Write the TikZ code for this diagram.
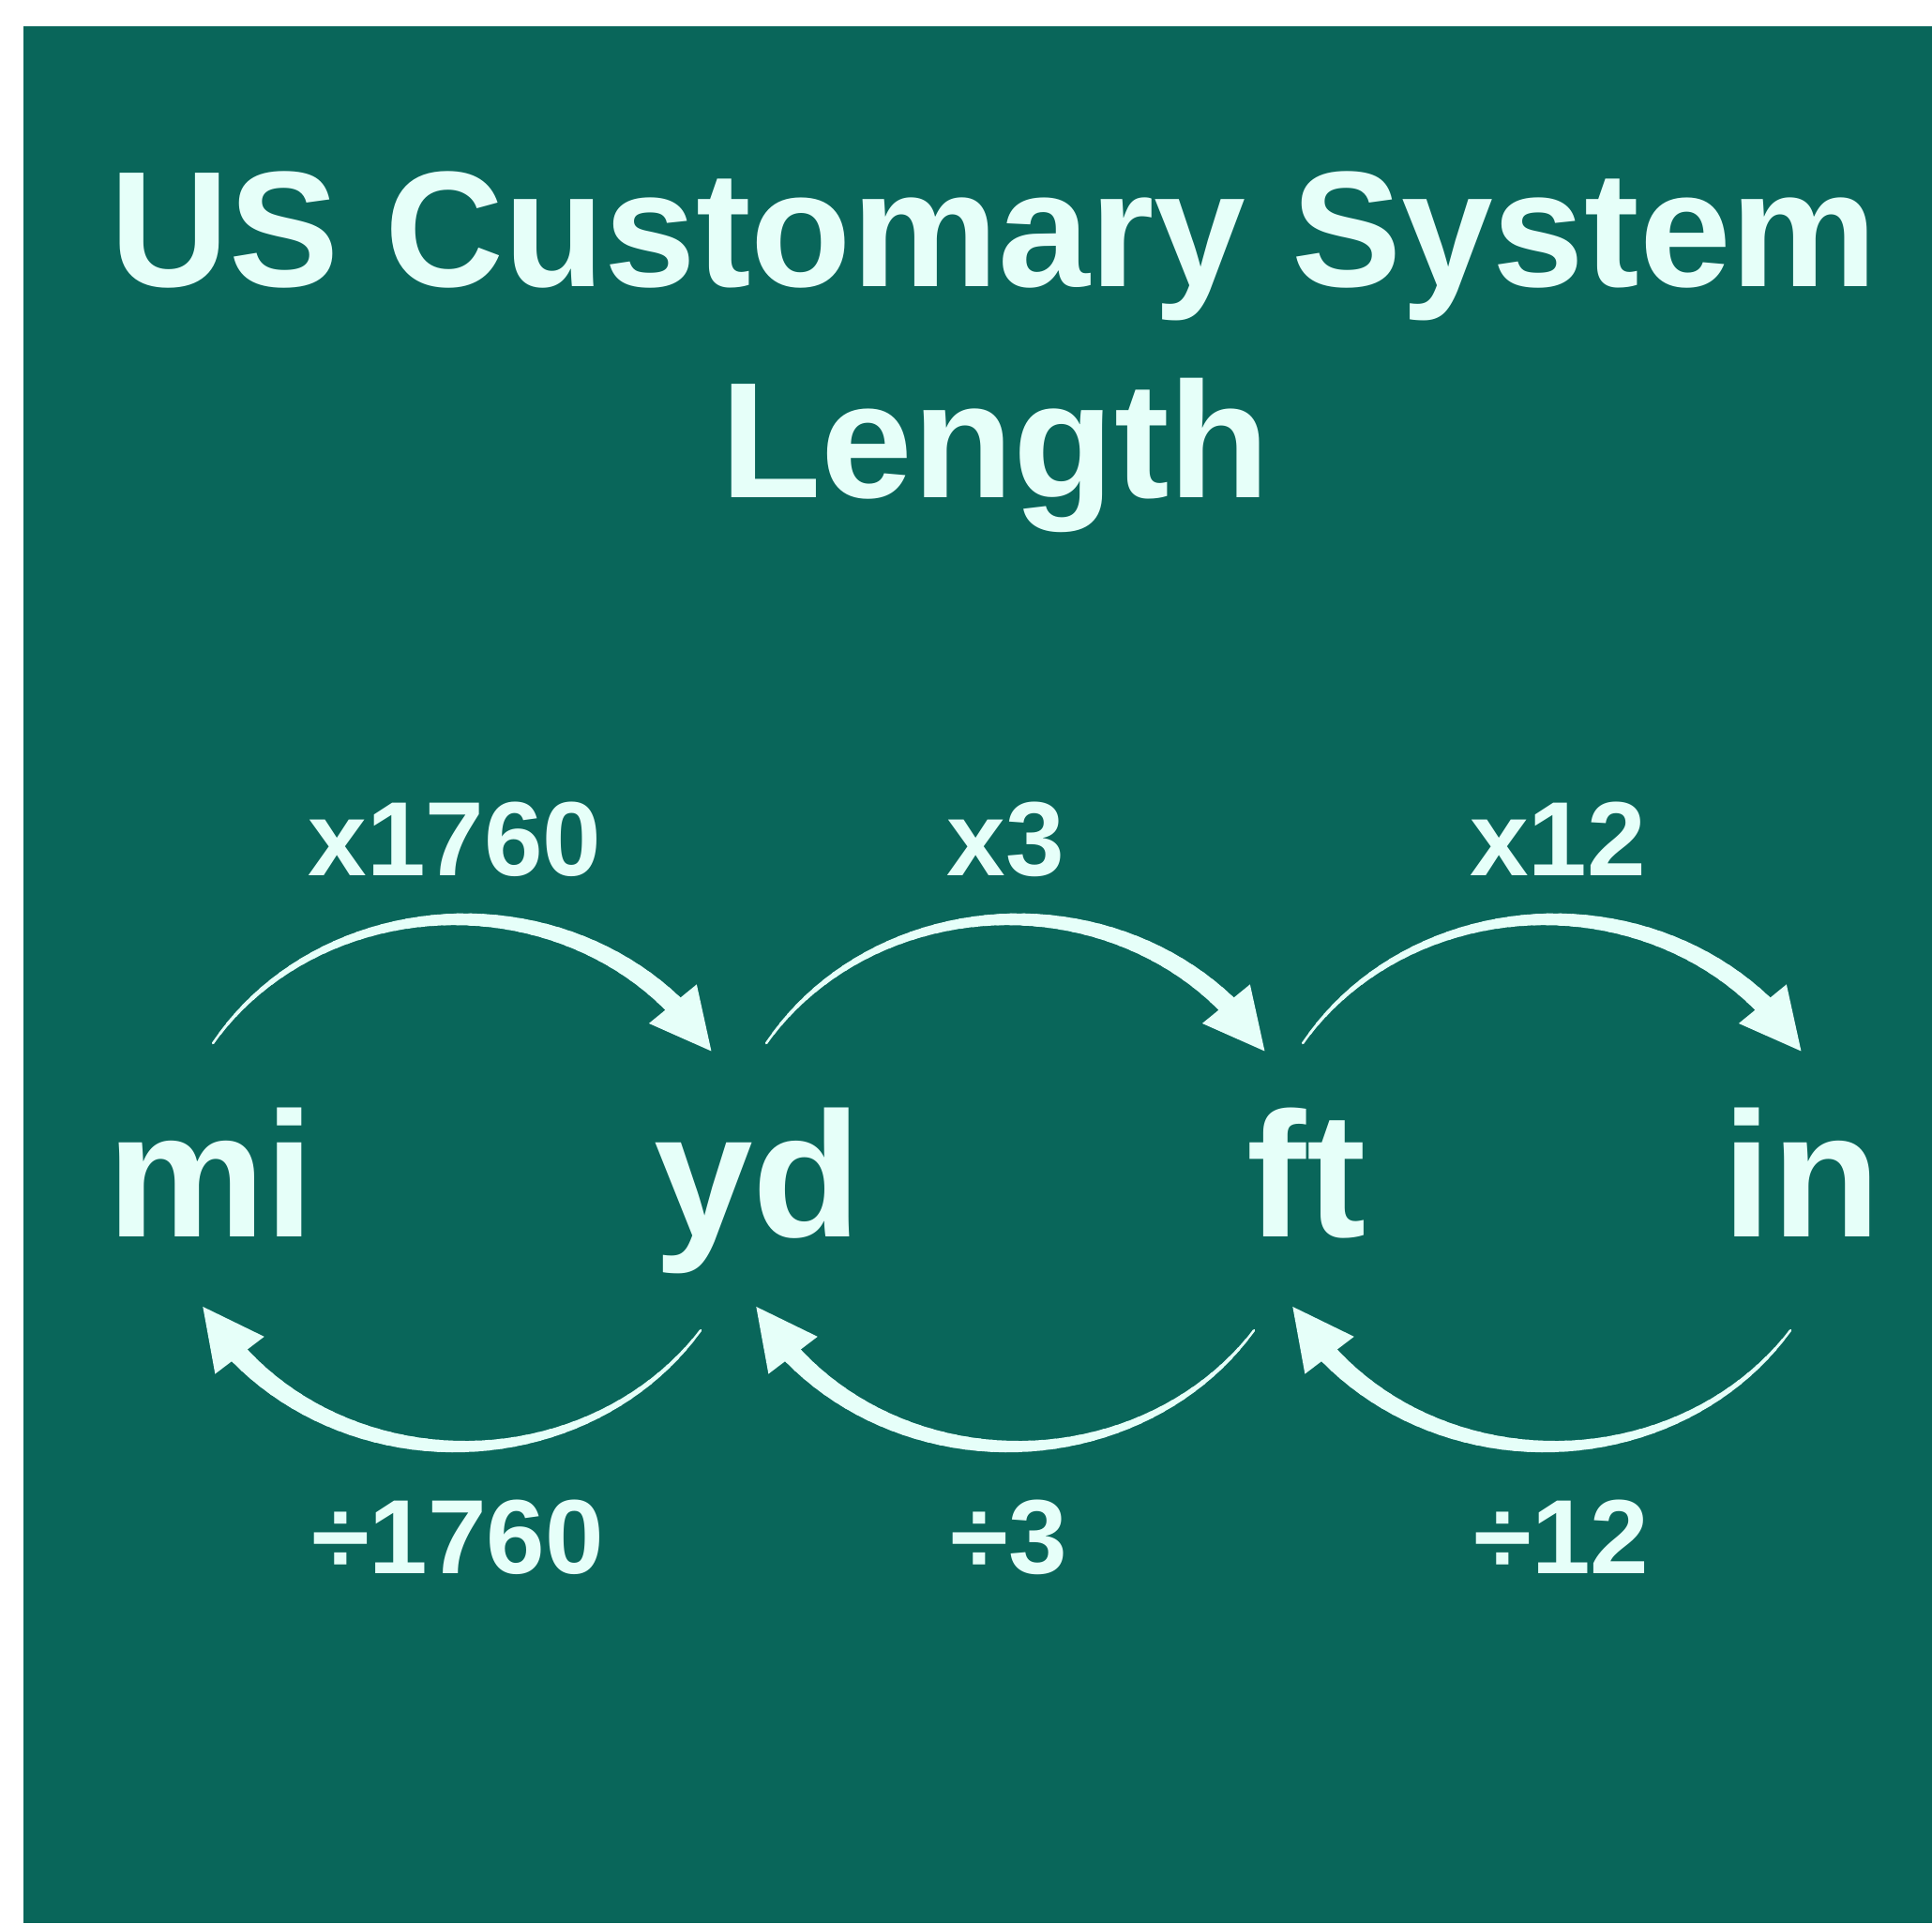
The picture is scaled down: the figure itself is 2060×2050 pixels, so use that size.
\documentclass[tikz,border=0pt]{standalone}
\usepackage{fontspec}
\setmainfont{Liberation Sans}
\usetikzlibrary{arrows.meta,calc}
\definecolor{board}{HTML}{09665A}
\definecolor{chalk}{HTML}{E6FFF9}

\begin{document}
\begin{tikzpicture}[x=0.1mm, y=-0.1mm, color=chalk,
  title/.style = {font=\fontsize{50}{60}\selectfont\bfseries, anchor=base, inner sep=0pt},
  unit/.style = {font=\fontsize{54}{64}\selectfont\bfseries, anchor=base, inner sep=0pt},
  rate/.style = {font=\fontsize{32}{38}\selectfont\bfseries, anchor=base, inner sep=0pt},
  tip/.style = {-{Triangle[length=6.5mm, width=6.5mm]}, line width=0.3mm}]

\fill[white] (0,0) rectangle (2060,2050);
\fill[board] (25,28) rectangle (2060,2050);

\node[title] (t1) at (1060,305) {US Customary System};
\node[title] (t2) at (1061,530) {Length};

\node[unit] (mi) at (225,1318) {mi};
\node[unit] (yd) at (808,1318) {yd};
\node[unit] (ft) at (1393,1318) {ft};
\node[unit] (in) at (1921,1318) {in};

\node[rate] (mi2yd) at (485,933) {x1760};
\node[rate] (yd2ft) at (1072,933) {x3};
\node[rate] (ft2in) at (1661,933) {x12};
\node[rate] (yd2mi) at (488,1677) {÷1760};
\node[rate] (ft2yd) at (1076,1677) {÷3};
\node[rate] (in2ft) at (1665,1677) {÷12};

% loop centres
\coordinate (c1) at (490,1261);
\coordinate (c2) at (1080,1261);
\coordinate (c3) at (1652,1261);

% tapered arcs, top one then bottom one
\foreach \c in {c1,c2,c3} {
  \foreach \s in {212,34} {
    \foreach \k in {0,...,42} {
      \pgfmathsetmacro\a{\s+\k*2.5}
      \pgfmathsetmacro\w{0.25+\k*0.044}
      \draw[line width=\w mm, line cap=round] ($(\c)+(\a:310 and 281)$)
        arc[start angle=\a, end angle=\a+2.8, x radius=310, y radius=281];
    }
    \pgfmathsetmacro\b{\s+105}
    \pgfmathsetmacro\e{\s+118}
    \draw[tip] ($(\c)+(\b:310 and 281)$) -- ($(\c)+(\e:310 and 281)$);
  }
}

\end{tikzpicture}
\end{document}
